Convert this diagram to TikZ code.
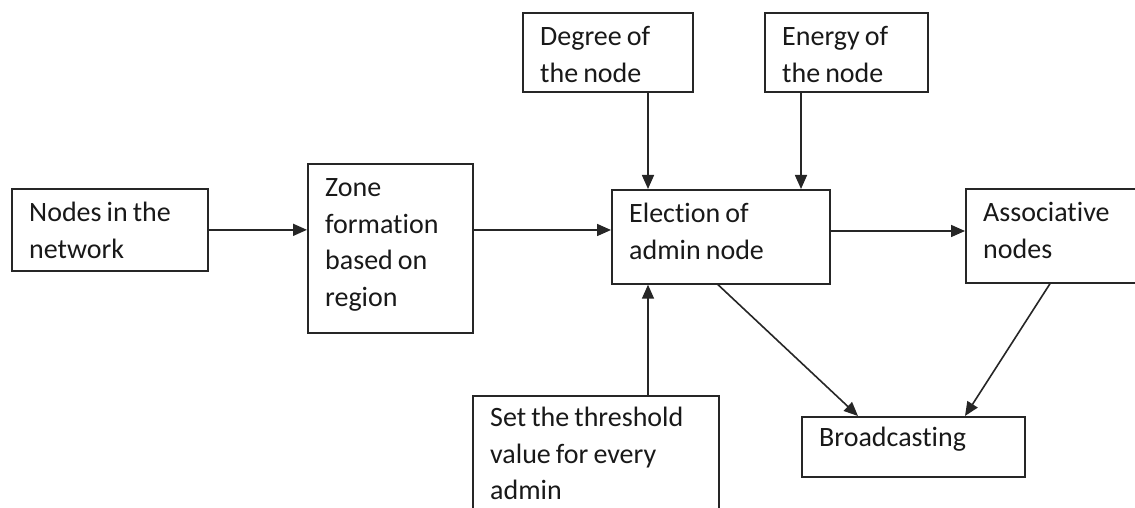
\documentclass[tikz,border=0pt]{standalone}
\usepackage{fontspec}
\setmainfont{Carlito}[Ligatures=NoCommon, WordSpace=0.8]
\usetikzlibrary{arrows.meta,calc}
\begin{document}
\begin{tikzpicture}[x=1pt,y=1pt,
  box/.style={draw=black!85, line width=1.7pt, rectangle, inner sep=0pt, anchor=north west},
  lbl/.style={anchor=base west, inner sep=0pt, font=\fontsize{28}{36.5}\selectfont, text=black!90},
  conn/.style={draw=black!85, line width=1.6pt, -{Triangle[length=14pt,width=12pt]}}]
\useasboundingbox[fill=white] (0,0) rectangle (1135,508);
% boxes
\node[box, minimum width=196pt, minimum height=82pt] (nodes) at (11,320) {};
\node[box, minimum width=165pt, minimum height=169pt] (zone) at (307,345) {};
\node[box, minimum width=218pt, minimum height=94pt] (election) at (611,319) {};
\node[box, minimum width=170pt, minimum height=79pt] (degree) at (522,496) {};
\node[box, minimum width=163pt, minimum height=79pt] (energy) at (764,496) {};
\node[box, minimum width=185pt, minimum height=94pt] (assoc) at (965,320) {};
\node[box, minimum width=246pt, minimum height=140pt] (threshold) at (472,113) {};
\node[box, minimum width=223pt, minimum height=60pt] (broad) at (801,92) {};
% labels
\node[lbl] (nodesT) at ($(nodes.north west)+(18,-34)$) {\begin{tabular}[t]{@{}l@{}}Nodes in the\\network\end{tabular}};
\node[lbl] (zoneT) at ($(zone.north west)+(18,-34)$) {\begin{tabular}[t]{@{}l@{}}Zone\\formation\\based on\\region\end{tabular}};
\node[lbl] (electionT) at ($(election.north west)+(18,-34)$) {\begin{tabular}[t]{@{}l@{}}Election of\\admin node\end{tabular}};
\node[lbl] (degreeT) at ($(degree.north west)+(18,-34)$) {\begin{tabular}[t]{@{}l@{}}Degree of\\the node\end{tabular}};
\node[lbl] (energyT) at ($(energy.north west)+(18,-34)$) {\begin{tabular}[t]{@{}l@{}}Energy of\\the node\end{tabular}};
\node[lbl] (assocT) at ($(assoc.north west)+(18,-34)$) {\begin{tabular}[t]{@{}l@{}}Associative\\nodes\end{tabular}};
\node[lbl] (thresholdT) at ($(threshold.north west)+(18,-32)$) {\begin{tabular}[t]{@{}l@{}}Set the threshold\\value for every\\admin\end{tabular}};
\node[lbl] (broadT) at ($(broad.north west)+(18,-31)$) {Broadcasting};
% connectors
\draw[conn] (nodes.east) -- (nodes.east -| zone.west);
\coordinate (zo) at ($(zone.north east)+(0,-67)$);
\draw[conn] (zo) -- (zo -| election.west);
\coordinate (eo) at ($(election.north east)+(0,-42)$);
\draw[conn] (eo) -- (eo -| assoc.west);
\coordinate (dg) at ($(degree.south west)+(126,0)$);
\draw[conn] (dg) -- (dg |- election.north);
\coordinate (en) at ($(energy.south west)+(37,0)$);
\draw[conn] (en) -- (en |- election.north);
\coordinate (th) at ($(threshold.north west)+(176,0)$);
\draw[conn] (th) -- (th |- election.south);
\draw[conn] ($(election.south west)+(107,0)$) -- ($(broad.north west)+(57,0)$);
\draw[conn] ($(assoc.south west)+(85,0)$) -- ($(broad.north west)+(164,0)$);
\end{tikzpicture}
\end{document}
